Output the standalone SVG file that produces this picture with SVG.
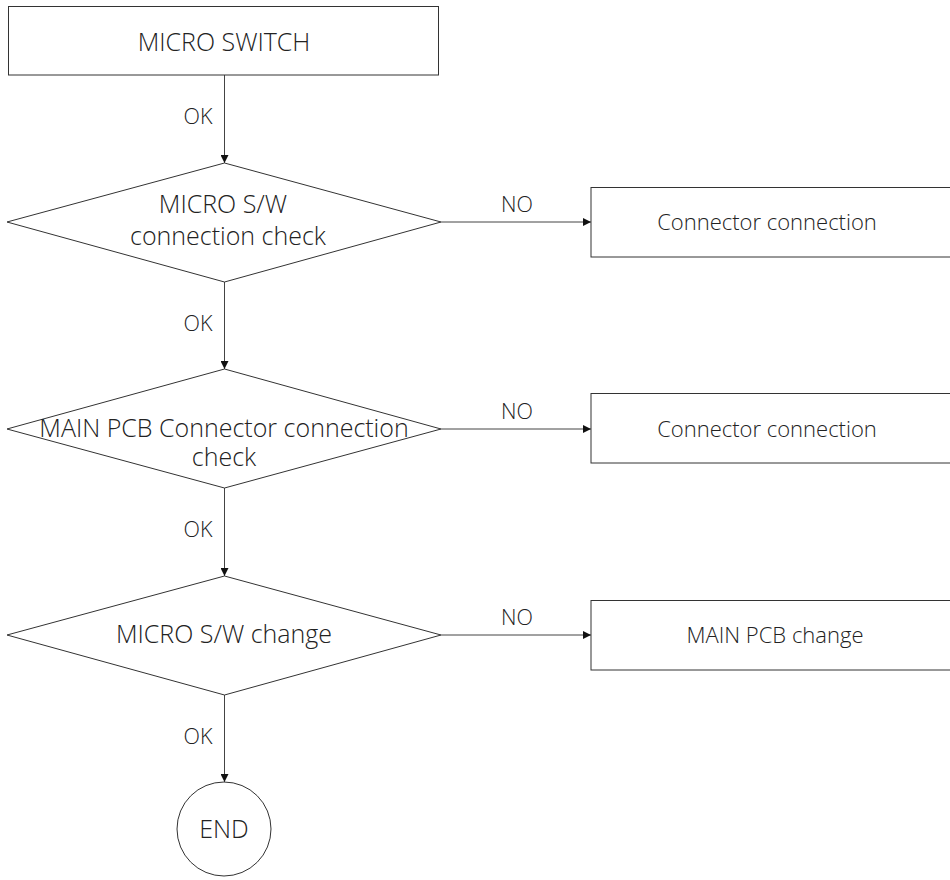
<svg xmlns="http://www.w3.org/2000/svg" width="950" height="880" viewBox="0 0 950 880">
<style>
.s{fill:#fff;stroke:#333;stroke-width:1}
.c{fill:none;stroke:#444;stroke-width:1}
.t{font-family:"Open Sans","Noto Sans",sans-serif;font-weight:300;fill:#222;text-anchor:middle}
.n{font-size:22px}
.d{font-size:25px}
.l{font-size:21.5px}
</style>
<defs>
<marker id="a" viewBox="0 0 10 10" refX="10" refY="5" markerWidth="8" markerHeight="8" markerUnits="userSpaceOnUse" orient="auto">
<path d="M0,0 L10,5 L0,10 z" fill="#111"/>
</marker>
</defs>
<g id="connectors">
<line class="c" x1="224.5" y1="75" x2="224.5" y2="163" marker-end="url(#a)"/>
<line class="c" x1="224.5" y1="282" x2="224.5" y2="369" marker-end="url(#a)"/>
<line class="c" x1="224.5" y1="488" x2="224.5" y2="576" marker-end="url(#a)"/>
<line class="c" x1="224.5" y1="695" x2="224.5" y2="782" marker-end="url(#a)"/>
<line class="c" x1="441" y1="222" x2="591" y2="222" marker-end="url(#a)"/>
<line class="c" x1="441" y1="429" x2="591" y2="429" marker-end="url(#a)"/>
<line class="c" x1="441" y1="635" x2="591" y2="635" marker-end="url(#a)"/>
<text class="t l" x="198" y="124">OK</text>
<text class="t l" x="198" y="331">OK</text>
<text class="t l" x="198" y="537">OK</text>
<text class="t l" x="198" y="744">OK</text>
<text class="t l" x="517" y="212">NO</text>
<text class="t l" x="517" y="419">NO</text>
<text class="t l" x="517" y="625">NO</text>
</g>
<g id="start">
<rect class="s" x="8.5" y="6.5" width="430" height="68.5"/>
<text class="t d" x="224" y="51">MICRO SWITCH</text>
</g>
<g id="d1">
<polygon class="s" points="224.5,163 441,222 224.5,282 7,222"/>
<text class="t d" x="223" y="213">MICRO S/W</text>
<text class="t d" x="228" y="245">connection check</text>
</g>
<g id="b1">
<rect class="s" x="591" y="187.5" width="360" height="69.5"/>
<text class="t n" x="767" y="230">Connector connection</text>
</g>
<g id="d2">
<polygon class="s" points="224.5,369 441,429 224.5,488 7,429"/>
<text class="t d" x="224" y="437">MAIN PCB Connector connection</text>
<text class="t d" x="224" y="466">check</text>
</g>
<g id="b2">
<rect class="s" x="591" y="393.5" width="360" height="69.5"/>
<text class="t n" x="767" y="437">Connector connection</text>
</g>
<g id="d3">
<polygon class="s" points="224.5,576 441,635 224.5,695 7,635"/>
<text class="t d" x="224" y="643">MICRO S/W change</text>
</g>
<g id="b3">
<rect class="s" x="591" y="600.5" width="360" height="69.5"/>
<text class="t n" x="775" y="643">MAIN PCB change</text>
</g>
<g id="end">
<circle class="s" cx="224" cy="829" r="47"/>
<text class="t d" x="224" y="838">END</text>
</g>
</svg>
